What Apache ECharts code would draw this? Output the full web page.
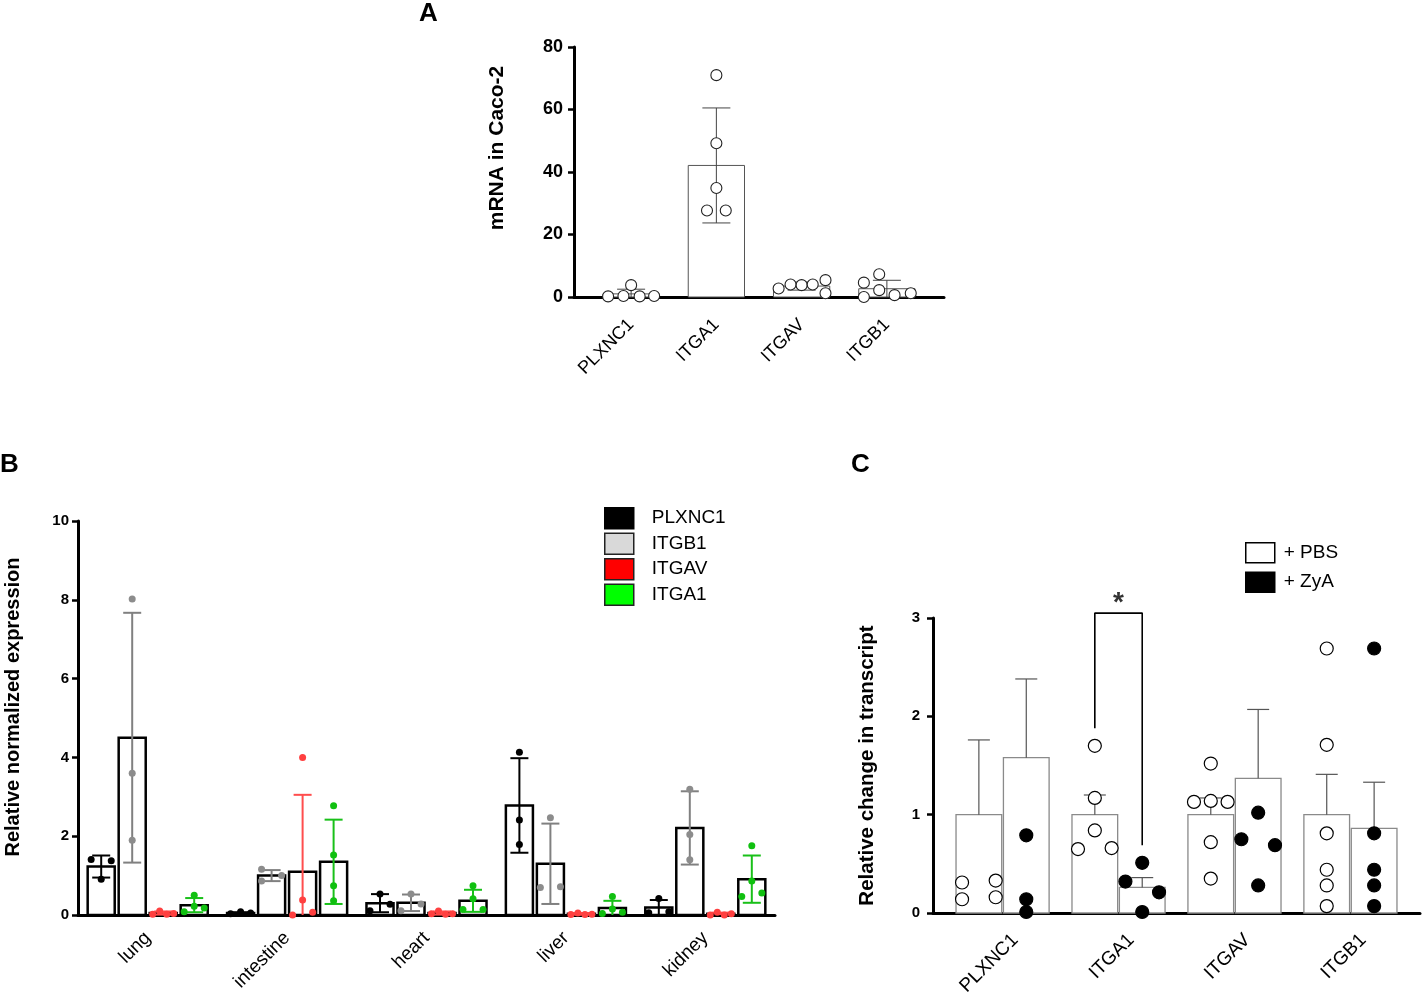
<!DOCTYPE html>
<html>
<head>
<meta charset="utf-8">
<script src="https://cdn.jsdelivr.net/npm/echarts@6/dist/echarts.min.js"></script>
<style>
  html, body { margin: 0; padding: 0; background: #fff; }
  #chart { width: 1422px; height: 994px; }
</style>
</head>
<body>
<div id="chart"></div>
<script>
// ---- panel A: mRNA in Caco-2 ----
const aGenes = ['PLXNC1', 'ITGA1', 'ITGAV', 'ITGB1'];
const aMean = [1.0, 42.1, 3.5, 2.65];
const aSD = [1.5, 18.4, 1.3, 2.7];
const aPts = [
  [0.2, 0.3, 3.8, 0.2, 0.3],
  [71.0, 49.2, 34.9, 27.7, 27.7],
  [2.7, 4.0, 3.8, 4.0, 5.4, 1.2],
  [4.6, 0.0, 7.3, 2.2, 0.6, 1.2]
];
const aJit = [
  [-0.27, -0.09, 0, 0.1, 0.27],
  [0, 0, 0, -0.11, 0.11],
  [-0.27, -0.13, 0, 0.13, 0.28, 0.28],
  [-0.27, -0.27, -0.09, -0.09, 0.09, 0.28]
];

// ---- panel B: tissues ----
const bTissues = ['lung', 'intestine', 'heart', 'liver', 'kidney'];
const bGenes = ['PLXNC1', 'ITGB1', 'ITGAV', 'ITGA1'];
const bMeans = [
  [1.23, 0.05, 0.30, 2.78, 0.19],
  [4.50, 1.00, 0.31, 1.30, 2.21],
  [0.05, 1.10, 0.05, 0.03, 0.03],
  [0.25, 1.35, 0.36, 0.18, 0.91]
];
const bSD = [
  [0.28, 0.02, 0.23, 1.20, 0.19],
  [3.17, 0.14, 0.21, 1.02, 0.93],
  [0.04, 1.95, 0.04, 0.02, 0.03],
  [0.18, 1.07, 0.28, 0.18, 0.60]
];
const bPtsPLXNC1 = [[1.41, 0.91, 1.38], [0.03, 0.08, 0.05], [0.11, 0.53, 0.27], [4.13, 2.41, 1.79], [0.06, 0.42, 0.08]];
const bPtsITGB1 = [[8.02, 3.60, 1.90], [1.16, 0.86, 1.00], [0.11, 0.53, 0.28], [2.47, 0.70, 0.72], [3.19, 2.04, 1.40]];
const bPtsITGAV = [[0.02, 0.10, 0.02, 0.04], [0.0, 0.38, 4.0, 0.07], [0.03, 0.10, 0.02, 0.03], [0.01, 0.05, 0.01, 0.02], [0.0, 0.07, 0.0, 0.03]];
const bPtsITGA1 = [[0.08, 0.50, 0.22, 0.18], [2.77, 1.52, 0.74, 0.36], [0.14, 0.74, 0.41, 0.14], [0.04, 0.47, 0.15, 0.07], [0.47, 1.76, 0.86, 0.56]];
const bJitPLXNC1 = [[-1, 0, 1], [-1, 0, 1], [-1, 0, 1], [0, 0, 0], [-1, 0, 1]];
const bJitITGB1 = [[0, 0, 0], [-1, -1, 1], [-1, 0, 1], [0, -1, 1], [0, 0, 0]];
const bJitITGAV = [[-1.05, -0.35, 0.35, 1.05], [-1, 0, 0, 1], [-1.05, -0.35, 0.35, 1.05], [-1.05, -0.35, 0.35, 1.05], [-1.05, -0.35, 0.35, 1.05]];
const bJitITGA1 = [[-1, 0, 0, 1], [0, 0, 0, 0], [-1, 0, 0, 1], [-1, 0, 0, 1], [-1, 0, 0, 1]];

// ---- panel C: PBS vs ZyA ----
const cGenes = ['PLXNC1', 'ITGA1', 'ITGAV', 'ITGB1'];
const cMeanPBS = [1.0, 1.0, 1.0, 1.0];
const cMeanZyA = [1.58, 0.26, 1.37, 0.86];
const cErrPBS = [0.76, 0.20, 0.17, 0.41];
const cErrZyA = [0.80, 0.10, 0.70, 0.47];
const cPtsPBS = [[0.31, 0.14, 0.33, 0.16], [1.70, 1.17, 0.84, 0.65, 0.66], [1.52, 1.13, 1.14, 1.13, 0.72, 0.35], [2.69, 1.71, 0.81, 0.44, 0.28, 0.07]];
const cPtsZyA = [[0.79, 0.14, 0.01], [0.51, 0.32, 0.21, 0.01], [1.02, 0.75, 0.69, 0.28], [2.69, 0.81, 0.44, 0.28, 0.07]];
const cJitPBS = [[-1, -1, 1, 1], [0, 0, 0, -1, 1], [0, -1, 0, 1, 0, 0], [0, 0, 0, 0, 0, 0]];
const cJitZyA = [[0, 0, 0], [0, -1, 1, 0], [0, -1, 1, 0], [0, 0, 0, 0, 0]];
const cSigY = [1.88, 3.05, 0.69];

const FONT = '"Liberation Sans", Arial, sans-serif';

function rectItem(hw, fill, stroke, lw) {
  return function (params, api) {
    const x = api.value(0);
    const tl = api.coord([x - hw, api.value(1)]);
    const br = api.coord([x + hw, 0]);
    return {
      type: 'rect',
      shape: { x: tl[0], y: tl[1], width: br[0] - tl[0], height: br[1] - tl[1] },
      style: { fill: fill, stroke: stroke, lineWidth: lw }
    };
  };
}

function errItem(cap, color, lw) {
  return function (params, api) {
    const x = api.value(0);
    const lo = api.coord([x, api.value(1)]);
    const hi = api.coord([x, api.value(2)]);
    const st = { stroke: color, lineWidth: lw };
    const kids = [
      { type: 'line', shape: { x1: lo[0], y1: lo[1], x2: hi[0], y2: hi[1] }, style: st },
      { type: 'line', shape: { x1: hi[0] - cap / 2, y1: hi[1], x2: hi[0] + cap / 2, y2: hi[1] }, style: st }
    ];
    if (api.value(3)) {
      kids.push({ type: 'line', shape: { x1: lo[0] - cap / 2, y1: lo[1], x2: lo[0] + cap / 2, y2: lo[1] }, style: st });
    }
    return { type: 'group', children: kids };
  };
}

// labelShift nudges the rotated label's anchor to the right of the group centre
function xAxisFor(grid, min, max, names, size, margin, labelShift) {
  return {
    type: 'value', gridIndex: grid, min: min, max: max,
    splitLine: { show: false },
    axisLine: { show: true, onZero: false, lineStyle: { color: '#000', width: 3 } },
    axisTick: { show: false },
    axisLabel: {
      customValues: names.map((n, i) => i + labelShift), rotate: 45, margin: margin, color: '#000',
      fontSize: size, fontFamily: FONT,
      formatter: v => names[Math.round(v)]
    }
  };
}

function yAxisFor(grid, max, interval, name, gap, labelSize, nameSize, margin, shift) {
  return {
    type: 'value', gridIndex: grid, min: 0, max: max, interval: interval,
    splitLine: { show: false },
    axisLine: { show: true, onZero: false, lineStyle: { color: '#000', width: 3 } },
    axisTick: { show: true, length: 6, lineStyle: { color: '#000', width: 2.5 } },
    axisLabel: { color: '#000', fontSize: labelSize, fontWeight: 'bold', fontFamily: FONT, margin: margin },
    name: name, nameLocation: 'middle', nameGap: gap,
    nameTextStyle: { color: '#000', fontSize: nameSize, fontWeight: 'bold', fontFamily: FONT, padding: [0, 0, 0, shift] }
  };
}

const series = [];

// A
series.push({
  type: 'custom', name: 'A bars', xAxisIndex: 0, yAxisIndex: 0, z: 2,
  renderItem: rectItem(0.33, '#fff', '#555', 1),
  data: aGenes.map((g, i) => [i, aMean[i]])
});
series.push({
  type: 'custom', name: 'A sd', xAxisIndex: 0, yAxisIndex: 0, z: 3,
  renderItem: errItem(28, '#444', 1),
  data: aGenes.map((g, i) => [i, Math.max(0, aMean[i] - aSD[i]), aMean[i] + aSD[i], aMean[i] - aSD[i] > 0 ? 1 : 0])
});
series.push({
  type: 'scatter', name: 'A points', xAxisIndex: 0, yAxisIndex: 0, z: 4,
  symbol: 'circle', symbolSize: 11,
  itemStyle: { color: '#fff', borderColor: '#222', borderWidth: 1.1, opacity: 1 },
  data: aPts.flatMap((arr, i) => arr.map((v, j) => [i + aJit[i][j], v]))
});

// B
const bOffset = [-0.3336, -0.1112, 0.1112, 0.3336];
const bErrColor = ['#000', '#808080', '#ff4d4d', '#19c019'];
const bPtColor = ['#000', '#8c8c8c', '#ff4040', '#10c010'];
const bPts = [bPtsPLXNC1, bPtsITGB1, bPtsITGAV, bPtsITGA1];
const bJit = [bJitPLXNC1, bJitITGB1, bJitITGAV, bJitITGA1];
const bJitUnit = 0.072;
bGenes.forEach((g, k) => {
  series.push({
    type: 'custom', name: g, xAxisIndex: 1, yAxisIndex: 1, z: 2,
    renderItem: rectItem(0.097, '#fff', '#000', 2.5),
    data: bTissues.map((t, i) => [i + bOffset[k], bMeans[k][i]])
  });
});
bGenes.forEach((g, k) => {
  series.push({
    type: 'custom', name: g, xAxisIndex: 1, yAxisIndex: 1, z: 3,
    renderItem: errItem(18, bErrColor[k], 2),
    data: bTissues.map((t, i) => {
      const lo = bMeans[k][i] - bSD[k][i];
      return [i + bOffset[k], Math.max(0, lo), bMeans[k][i] + bSD[k][i], lo > 0 ? 1 : 0];
    })
  });
});
bGenes.forEach((g, k) => {
  series.push({
    type: 'scatter', name: g, xAxisIndex: 1, yAxisIndex: 1, z: 4,
    symbol: 'circle', symbolSize: 7,
    itemStyle: { color: bPtColor[k], opacity: 1 },
    data: bPts[k].flatMap((arr, i) => arr.map((v, j) => [i + bOffset[k] + bJit[k][i][j] * bJitUnit, v]))
  });
});

// C
const cOffset = 0.2044;
const cJitUnit = 0.145;
[['+ PBS', cMeanPBS, cErrPBS, cPtsPBS, cJitPBS, -cOffset, '#fff'],
 ['+ ZyA', cMeanZyA, cErrZyA, cPtsZyA, cJitZyA, cOffset, '#000']].forEach(([name, means, errs, pts, jit, off, dot]) => {
  series.push({
    type: 'custom', name: name, xAxisIndex: 2, yAxisIndex: 2, z: 2,
    renderItem: rectItem(0.197, '#fff', '#8a8a8a', 1.3),
    data: cGenes.map((g, i) => [i + off, means[i]])
  });
  series.push({
    type: 'custom', name: name, xAxisIndex: 2, yAxisIndex: 2, z: 3,
    renderItem: errItem(22, '#555', 1.2),
    data: cGenes.map((g, i) => [i + off, means[i], means[i] + errs[i], 0])
  });
  series.push({
    type: 'scatter', name: name, xAxisIndex: 2, yAxisIndex: 2, z: 4,
    symbol: 'circle', symbolSize: 13,
    itemStyle: { color: dot, borderColor: '#000', borderWidth: 1.2, opacity: 1 },
    data: pts.flatMap((arr, i) => arr.map((v, j) => [i + off + jit[i][j] * cJitUnit, v]))
  });
});
series.push({
  type: 'line', name: 'sig', xAxisIndex: 2, yAxisIndex: 2, z: 5, clip: false,
  symbol: 'none', lineStyle: { color: '#000', width: 1.6 },
  data: [[1 - cOffset, cSigY[0]], [1 - cOffset, cSigY[1]], [1 + cOffset, cSigY[1]], [1 + cOffset, cSigY[2]]]
});
series.push({
  type: 'scatter', name: 'star', xAxisIndex: 2, yAxisIndex: 2, z: 5, clip: false,
  symbolSize: 0,
  label: { show: true, formatter: '*', position: 'top', distance: -4, fontSize: 28, fontWeight: 'bold', color: '#000', fontFamily: FONT },
  data: [[1, cSigY[1]]]
});

const option = {
  animation: false,
  backgroundColor: '#fff',
  grid: [
    { left: 574, top: 47, width: 370, height: 250, outerBoundsMode: 'none' },
    { left: 78, top: 521, width: 697, height: 394, outerBoundsMode: 'none' },
    { left: 933, top: 618, width: 487, height: 295, outerBoundsMode: 'none' }
  ],
  xAxis: [
    xAxisFor(0, -0.67, 3.67, aGenes, 18, 25, 0),
    xAxisFor(1, -0.5, 4.5, bTissues, 19, 20, 0),
    xAxisFor(2, -0.6, 3.6, cGenes, 19, 24, 0.11)
  ],
  yAxis: [
    yAxisFor(0, 80, 20, 'mRNA in Caco-2', 66, 18, 21, 11, 48),
    yAxisFor(1, 10, 2, 'Relative normalized expression', 55, 15, 20, 9, 22),
    yAxisFor(2, 3, 1, 'Relative change in transcript', 55, 15, 20.5, 13, 0)
  ],
  legend: [
    {
      orient: 'vertical', left: 599, top: 502, selectedMode: false,
      itemWidth: 29, itemHeight: 21, itemGap: 3, icon: 'rect',
      textStyle: { fontSize: 19, color: '#000', fontFamily: FONT, padding: [0, 0, 0, 13] },
      data: [
        { name: 'PLXNC1', itemStyle: { color: '#000', borderColor: '#000', borderWidth: 1.5 } },
        { name: 'ITGB1', itemStyle: { color: '#d9d9d9', borderColor: '#222', borderWidth: 1.5 } },
        { name: 'ITGAV', itemStyle: { color: '#ff0000', borderColor: '#222', borderWidth: 1.5 } },
        { name: 'ITGA1', itemStyle: { color: '#00ff00', borderColor: '#222', borderWidth: 1.5 } }
      ]
    },
    {
      orient: 'vertical', left: 1240, top: 537, selectedMode: false,
      itemWidth: 29, itemHeight: 20, itemGap: 8, icon: 'rect',
      textStyle: { fontSize: 19, color: '#000', fontFamily: FONT, padding: [0, 0, 0, 4] },
      data: [
        { name: '+ PBS', itemStyle: { color: '#fff', borderColor: '#000', borderWidth: 1.5 } },
        { name: '+ ZyA', itemStyle: { color: '#000', borderColor: '#000', borderWidth: 1.5 } }
      ]
    }
  ],
  graphic: [
    { type: 'text', left: 419, top: 1, style: { text: 'A', font: 'bold 26px ' + FONT, fill: '#000' } },
    { type: 'text', left: 0, top: 452, style: { text: 'B', font: 'bold 26px ' + FONT, fill: '#000' } },
    { type: 'text', left: 851, top: 452, style: { text: 'C', font: 'bold 26px ' + FONT, fill: '#000' } }
  ],
  series: series
};

const chart = echarts.init(document.getElementById('chart'));
chart.setOption(option);
window.addEventListener('resize', () => chart.resize());
</script>
</body>
</html>
